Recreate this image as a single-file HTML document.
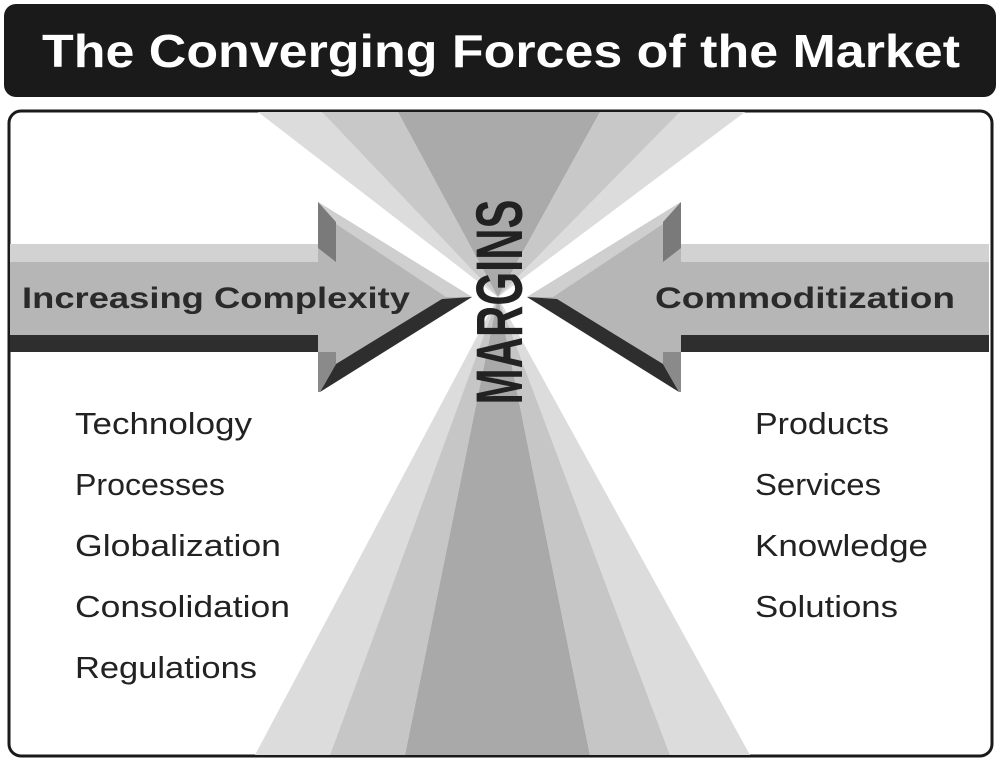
<!DOCTYPE html>
<html><head><meta charset="utf-8"><style>
html,body{margin:0;padding:0;background:#fff;}
svg{display:block;}
</style></head><body>
<svg width="1000" height="762" viewBox="0 0 1000 762" xmlns="http://www.w3.org/2000/svg" font-family="'Liberation Sans', 'DejaVu Sans', sans-serif">
<rect width="1000" height="762" fill="#fff"/>
<!-- title -->
<rect x="4" y="4" width="992" height="93" rx="12" fill="#1a1a1a"/>
<text x="42" y="67" font-size="46" font-weight="bold" fill="#fff" textLength="918" lengthAdjust="spacingAndGlyphs">The Converging Forces of the Market</text>
<!-- main box -->
<rect x="9" y="111" width="983" height="645" rx="12" fill="#fff" stroke="#1a1a1a" stroke-width="3"/>
<!-- rays -->
<g>
<polygon points="498,297 258,112 322,112" fill="#dcdcdc"/>
<polygon points="498,297 322,112 398,112" fill="#c8c8c8"/>
<polygon points="498,297 398,112 600,112" fill="#aaaaaa"/>
<polygon points="498,297 600,112 680,112" fill="#c8c8c8"/>
<polygon points="498,297 680,112 745,112" fill="#dcdcdc"/>
<polygon points="498,297 255,755 330,755" fill="#dcdcdc"/>
<polygon points="498,297 330,755 405,755" fill="#c6c6c6"/>
<polygon points="498,297 405,755 590,755" fill="#a9a9a9"/>
<polygon points="498,297 590,755 670,755" fill="#c6c6c6"/>
<polygon points="498,297 670,755 750,755" fill="#dcdcdc"/>
</g>
<!-- left arrow -->
<g id="arrow">
<rect x="10" y="244" width="326" height="18" fill="#d2d2d2"/>
<rect x="10" y="262" width="326" height="73" fill="#b6b6b6"/>
<rect x="10" y="335" width="326" height="17" fill="#2e2e2e"/>
<polygon points="318,202 472,297 318,392" fill="#b6b6b6"/>
<polygon points="318,202 472,297 446,297 336,224" fill="#cfcfcf"/>
<polygon points="318,202 336,222 336,262 318,248" fill="#7a7a7a"/>
<polygon points="472,297 320,392 336,364 442,299" fill="#2e2e2e"/>
<polygon points="318,352 336,352 336,364 320,392 318,392" fill="#8a8a8a"/>
</g>
<g transform="translate(999,0) scale(-1,1)">
<rect x="10" y="244" width="326" height="18" fill="#d2d2d2"/>
<rect x="10" y="262" width="326" height="73" fill="#b6b6b6"/>
<rect x="10" y="335" width="326" height="17" fill="#2e2e2e"/>
<polygon points="318,202 472,297 318,392" fill="#b6b6b6"/>
<polygon points="318,202 472,297 446,297 336,224" fill="#cfcfcf"/>
<polygon points="318,202 336,222 336,262 318,248" fill="#7a7a7a"/>
<polygon points="472,297 320,392 336,364 442,299" fill="#2e2e2e"/>
<polygon points="318,352 336,352 336,364 320,392 318,392" fill="#8a8a8a"/>
</g>
<!-- arrow labels -->
<text x="22" y="308" font-size="30" font-weight="bold" fill="#2a2a2a" textLength="388" lengthAdjust="spacingAndGlyphs">Increasing Complexity</text>
<text x="655" y="308" font-size="30" font-weight="bold" fill="#2a2a2a" textLength="300" lengthAdjust="spacingAndGlyphs">Commoditization</text>
<!-- MARGINS -->
<text transform="translate(522,302) rotate(-90)" text-anchor="middle" font-size="66" font-weight="bold" fill="#222" textLength="205" lengthAdjust="spacingAndGlyphs">MARGINS</text>
<!-- lists -->
<g font-size="31" fill="#222">
<text x="75" y="434" textLength="177" lengthAdjust="spacingAndGlyphs">Technology</text>
<text x="75" y="495" textLength="150" lengthAdjust="spacingAndGlyphs">Processes</text>
<text x="75" y="556" textLength="206" lengthAdjust="spacingAndGlyphs">Globalization</text>
<text x="75" y="617" textLength="215" lengthAdjust="spacingAndGlyphs">Consolidation</text>
<text x="75" y="678" textLength="182" lengthAdjust="spacingAndGlyphs">Regulations</text>
<text x="755" y="434" textLength="134" lengthAdjust="spacingAndGlyphs">Products</text>
<text x="755" y="495" textLength="126" lengthAdjust="spacingAndGlyphs">Services</text>
<text x="755" y="556" textLength="173" lengthAdjust="spacingAndGlyphs">Knowledge</text>
<text x="755" y="617" textLength="143" lengthAdjust="spacingAndGlyphs">Solutions</text>
</g>
</svg>
</body></html>
